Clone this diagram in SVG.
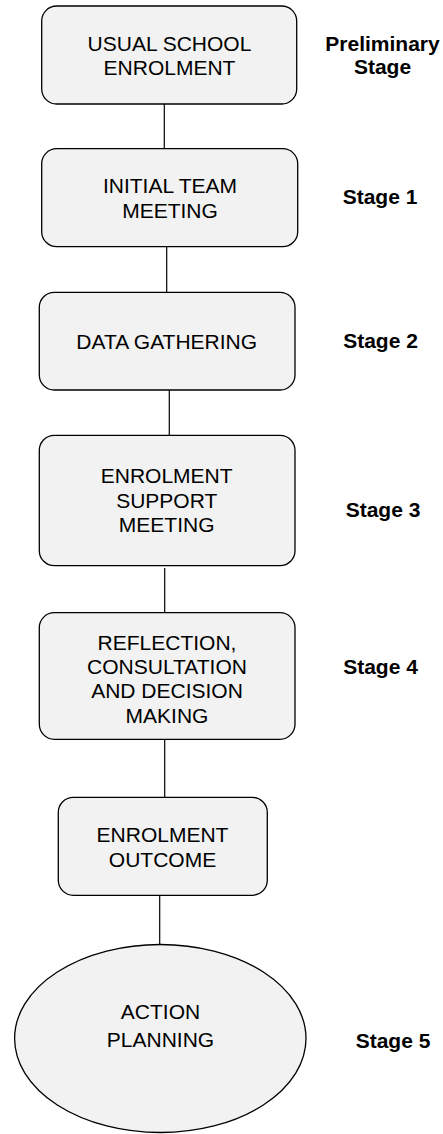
<svg xmlns="http://www.w3.org/2000/svg" width="443" height="1134" viewBox="0 0 443 1134">
<style>
.box{fill:#f2f2f2;stroke:#000;stroke-width:1.3}
.t{font-family:"Liberation Sans",Arial,sans-serif;font-size:21px;fill:#000;text-anchor:middle}
.s{font-family:"Liberation Sans",Arial,sans-serif;font-size:21px;font-weight:bold;fill:#000;text-anchor:middle}
.c{stroke:#000;stroke-width:1.2;fill:none}
</style>
<rect width="443" height="1134" fill="#fff"/>
<g id="connectors">
<line class="c" x1="164.3" y1="104" x2="164.3" y2="148.7"/>
<line class="c" x1="166.7" y1="246.7" x2="166.7" y2="292.3"/>
<line class="c" x1="169.3" y1="390" x2="169.3" y2="435.3"/>
<line class="c" x1="164.7" y1="568" x2="164.7" y2="612.7"/>
<line class="c" x1="164.7" y1="739.3" x2="164.7" y2="797.3"/>
<line class="c" x1="159.7" y1="895.3" x2="159.7" y2="944.3"/>
</g>
<g id="n1">
<rect class="box" x="41.7" y="6" width="255" height="98" rx="15"/>
<text class="t" x="169.5" y="50.7">USUAL SCHOOL</text>
<text class="t" x="169.5" y="75">ENROLMENT</text>
</g>
<g id="n2">
<rect class="box" x="41.7" y="148.7" width="256" height="98" rx="15"/>
<text class="t" x="170" y="193.3">INITIAL TEAM</text>
<text class="t" x="170" y="218.3">MEETING</text>
</g>
<g id="n3">
<rect class="box" x="39.3" y="292.3" width="255.7" height="97.7" rx="15"/>
<text class="t" x="166.7" y="349">DATA GATHERING</text>
</g>
<g id="n4">
<rect class="box" x="39.3" y="435.3" width="255.7" height="130.4" rx="15"/>
<text class="t" x="166.7" y="483.3">ENROLMENT</text>
<text class="t" x="166.7" y="508">SUPPORT</text>
<text class="t" x="166.7" y="532.3">MEETING</text>
</g>
<g id="n5">
<rect class="box" x="39.3" y="612.7" width="255.7" height="126.6" rx="15"/>
<text class="t" x="167" y="650">REFLECTION,</text>
<text class="t" x="167" y="674.3">CONSULTATION</text>
<text class="t" x="167" y="698.3">AND DECISION</text>
<text class="t" x="167" y="722.7">MAKING</text>
</g>
<g id="n6">
<rect class="box" x="58.3" y="797.3" width="209" height="98" rx="15"/>
<text class="t" x="162.5" y="842.3">ENROLMENT</text>
<text class="t" x="162.5" y="866.7">OUTCOME</text>
</g>
<g id="n7">
<ellipse class="box" cx="160.3" cy="1038.5" rx="145.7" ry="94"/>
<text class="t" x="160.5" y="1019">ACTION</text>
<text class="t" x="160.5" y="1047.3">PLANNING</text>
</g>
<g id="labels">
<text class="s" x="382.5" y="51">Preliminary</text>
<text class="s" x="382.5" y="74">Stage</text>
<text class="s" x="380" y="204">Stage 1</text>
<text class="s" x="380.5" y="348.3">Stage 2</text>
<text class="s" x="383" y="517.3">Stage 3</text>
<text class="s" x="380.5" y="674.3">Stage 4</text>
<text class="s" x="393" y="1048.3">Stage 5</text>
</g>
</svg>
